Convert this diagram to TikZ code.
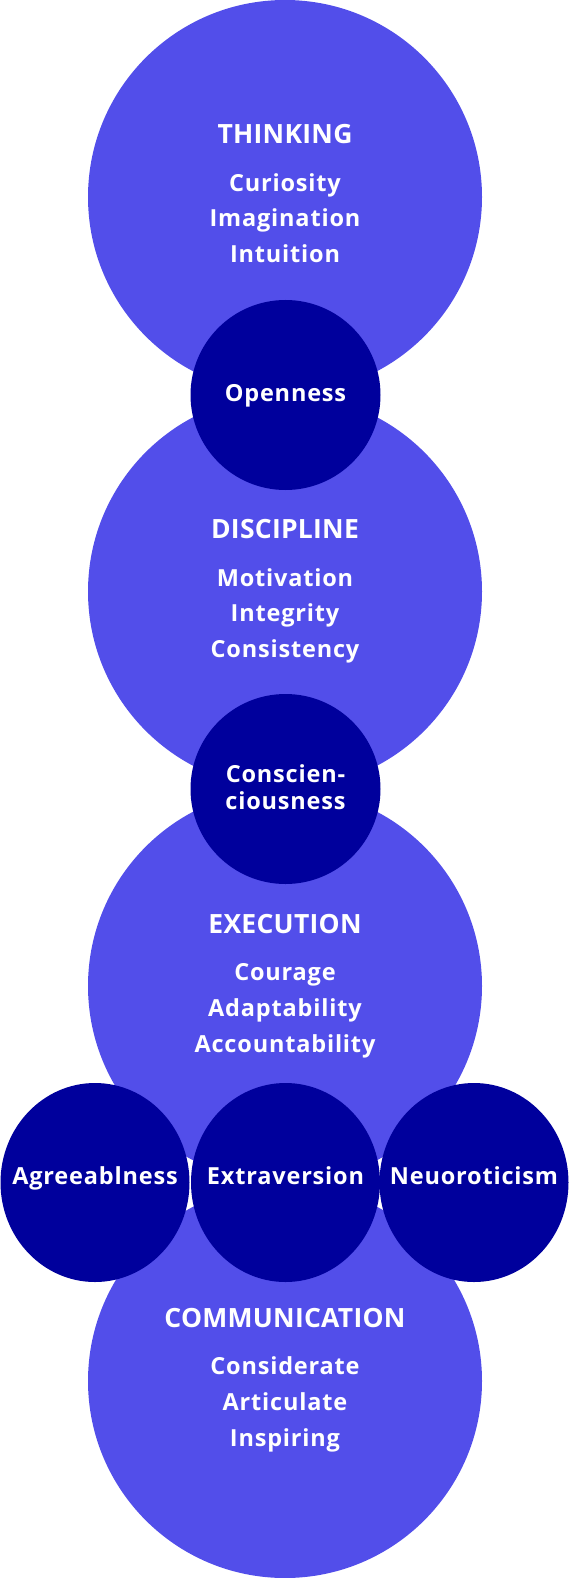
\documentclass[tikz,border=0pt]{standalone}
\usepackage{fontspec}
\setmainfont{Open Sans}
\usetikzlibrary{shapes.geometric}
\definecolor{bigc}{HTML}{524EEA}
\definecolor{smallc}{HTML}{00009C}
\tikzset{
  x=1pt, y=-1pt,
  bigcircle/.style={circle, fill=bigc, draw=none, minimum size=394pt, inner sep=0pt},
  smallcircle/.style={circle, fill=smallc, draw=none, minimum size=190pt, inner sep=0pt},
  smallellipse/.style={ellipse, fill=smallc, draw=none, minimum width=189pt, minimum height=199pt, inner sep=0pt},
  headtxt/.style={anchor=base, text=white, inner sep=0pt, font=\bfseries\fontsize{26.5}{30}\selectfont\addfontfeature{LetterSpace=1}},
  itemtxt/.style={anchor=base, text=white, inner sep=0pt, font=\bfseries\fontsize{23.5}{27}\selectfont\addfontfeature{LetterSpace=3.5}},
  labeltxt/.style={anchor=base, text=white, inner sep=0pt, font=\bfseries\fontsize{23.5}{27}\selectfont\addfontfeature{LetterSpace=3.5}},
}
\begin{document}
\begin{tikzpicture}
\useasboundingbox (0,0) rectangle (571,1578);
% big circles
\node[bigcircle] (thinking) at (285,197) {};
\node[bigcircle] (discipline) at (285,591.5) {};
\node[bigcircle] (execution) at (285,986) {};
\node[bigcircle] (communication) at (285,1381) {};
% small circles
\node[smallcircle] (openness) at (285.5,395) {};
\node[smallcircle] (consc) at (285.5,789) {};
\node[smallellipse] (agree) at (95,1182.5) {};
\node[smallellipse] (extra) at (285.5,1182.5) {};
\node[smallellipse] (neuro) at (474,1182.5) {};
% texts in big circles
\node[headtxt] (t1) at (285,144) {THINKING};
\node[itemtxt] (t2) at (285,191.5) {Curiosity};
\node[itemtxt] (t3) at (285,227) {Imagination};
\node[itemtxt] (t4) at (285,263) {Intuition};
\node[headtxt] (d1) at (285,538.5) {DISCIPLINE};
\node[itemtxt] (d2) at (285,586) {Motivation};
\node[itemtxt] (d3) at (285,621.5) {Integrity};
\node[itemtxt] (d4) at (285,657.5) {Consistency};
\node[headtxt] (e1) at (285,933) {EXECUTION};
\node[itemtxt] (e2) at (285,980.5) {Courage};
\node[itemtxt] (e3) at (285,1016) {Adaptability};
\node[itemtxt] (e4) at (285,1052) {Accountability};
\node[headtxt] (c1) at (285,1327) {COMMUNICATION};
\node[itemtxt] (c2) at (285,1374.5) {Considerate};
\node[itemtxt] (c3) at (285,1410) {Articulate};
\node[itemtxt] (c4) at (285,1446) {Inspiring};
% labels in small circles
\node[labeltxt] (l1) at (285.5,401) {Openness};
\node[labeltxt] (l2a) at (285.5,782) {Conscien-};
\node[labeltxt] (l2b) at (285.5,809) {ciousness};
\node[labeltxt] (l3) at (95,1184) {Agreeablness};
\node[labeltxt] (l4) at (285.5,1184) {Extraversion};
\node[labeltxt] (l5) at (474,1184) {Neuoroticism};
\end{tikzpicture}
\end{document}
